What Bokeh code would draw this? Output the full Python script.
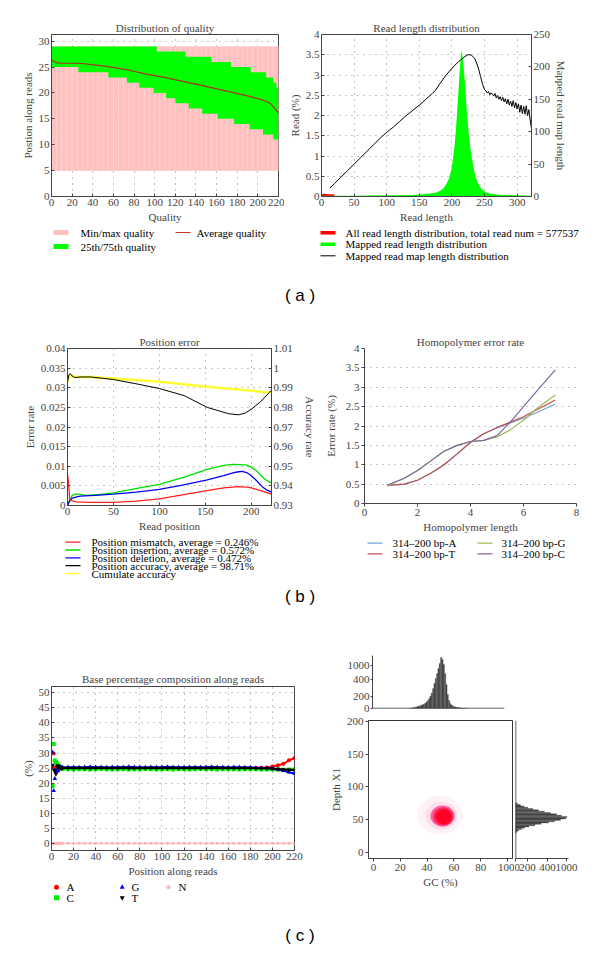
import numpy as np
from bokeh.plotting import figure
from bokeh.models import Range1d, LinearAxis, FixedTicker, PrintfTickFormatter, Div, Span
from bokeh.core.properties import value
from bokeh.layouts import column, row
from bokeh.embed import file_html
from bokeh.resources import INLINE

FONT = "Liberation Serif"
GRID = "#8c8c8c"
FS = "11px"

# ---------------- data: (a) distribution of quality ----------------
q_cols = list(range(0, 220, 5))
q_min = [5] * len(q_cols)
q_max = [29] * len(q_cols)
q_up_edges = [0, 102, 130, 155, 174, 193, 208, 215, 218, 220]
q_up_vals = [29, 28, 27, 26, 25, 24, 23, 22, 21]
q_lo_edges = [0, 26, 55, 73, 85, 99, 111, 120, 133, 146, 161, 177, 192, 205, 215, 220]
q_lo_vals = [25, 24, 23, 22, 21, 20, 19, 18, 17, 16, 15, 14, 13, 12, 11]
avg_x = [0, 3, 6, 10, 20, 30, 45, 60, 75, 91, 108, 124, 140, 156, 172, 189, 200, 205, 210, 213, 216, 220]
avg_y = [26.4, 26.0, 25.8, 25.75, 25.75, 25.7, 25.35, 24.95, 24.4, 23.7, 23.05, 22.4, 21.7, 21.0, 20.25, 19.5, 18.9, 18.6, 18.2, 17.8, 17.1, 16.1]

# ---------------- data: (a) read length distribution ----------------
all_x = [0, 5, 10, 15, 20]
all_y = [0.02, 0.03, 0.02, 0.02, 0.01]
map_x = [0, 50, 100, 140, 160, 175, 183, 188, 192, 196, 199, 202, 204, 206, 208, 210, 212, 213.5, 215,
         216.5, 218, 220, 222, 224, 227, 230, 233, 236, 240, 245, 252, 260, 277, 300, 322]
map_y = [0.02, 0.02, 0.03, 0.04, 0.06, 0.09, 0.15, 0.22, 0.32, 0.47, 0.65, 0.96, 1.25, 1.62, 2.1, 2.6,
         3.1, 3.42, 3.62, 3.45, 3.2, 2.8, 2.3, 1.85, 1.35, 1.0, 0.72, 0.5, 0.32, 0.2, 0.1, 0.07, 0.04, 0.03, 0.02]
len_x = [13, 20, 30, 40, 50, 60, 70, 80, 90, 100, 110, 120, 130, 140, 150, 160, 170, 175, 180, 190, 200,
         210, 220, 225, 230, 235, 240, 244, 247,
         250, 252, 254, 256, 258, 260, 262, 264, 266, 268, 270, 272, 274, 276, 278, 280, 282, 284, 286,
         288, 290, 292, 294, 296, 298, 300, 302, 304, 306, 308, 310, 312, 314, 316, 318, 320, 322]
len_y = [13, 20, 30, 40, 50, 60, 70, 80, 90, 99, 107, 116, 125, 133, 141, 150, 159, 164, 172, 186, 198,
         208, 216, 219, 218, 213, 200, 185, 173,
         165, 163, 160, 162, 157, 160, 158, 155, 159, 152, 156, 150, 154, 148, 153, 146, 151, 143, 150,
         141, 147, 139, 148, 137, 145, 135, 143, 130, 141, 128, 139, 127, 140, 125, 134, 118, 105]

# ---------------- data: (b) position error ----------------
mm_x = [0, 1, 2.5, 6, 10, 25, 50, 75, 100, 125, 150, 170, 186, 195, 200, 210, 222]
mm_y = [0.0081, 0.006, 0.0014, 0.0011, 0.0009, 0.0008, 0.0008, 0.0011, 0.0017, 0.0027, 0.0037, 0.0045,
        0.0048, 0.0047, 0.0045, 0.0038, 0.0029]
ins_x = [0, 2, 5, 8, 12, 20, 35, 50, 77, 100, 127, 152, 170, 180, 188, 195, 200, 206, 211, 216, 222]
ins_y = [0, 0.0012, 0.0025, 0.0029, 0.0029, 0.0026, 0.0028, 0.0032, 0.0044, 0.0054, 0.0072, 0.0092,
         0.0102, 0.0105, 0.0104, 0.0103, 0.0098, 0.0088, 0.0075, 0.0065, 0.0057]
del_x = [0, 2, 5, 10, 14, 30, 50, 75, 100, 125, 152, 170, 180, 186, 190, 195, 200, 205, 212, 217, 222]
del_y = [0, 0.001, 0.0019, 0.0022, 0.0024, 0.0026, 0.0029, 0.0034, 0.0041, 0.0052, 0.0065, 0.0076,
         0.0083, 0.0086, 0.0087, 0.0084, 0.0076, 0.0065, 0.0048, 0.0039, 0.0034]
acc_x = [0, 1.5, 3, 5, 8, 15, 25, 50, 77, 100, 127, 152, 165, 175, 186, 193, 200, 205, 210, 214, 218, 222]
acc_y = [0.993, 0.9965, 0.9972, 0.996, 0.9952, 0.9955, 0.9955, 0.9942, 0.9918, 0.9896, 0.986, 0.980,
         0.9782, 0.9768, 0.9762, 0.977, 0.979, 0.981, 0.9828, 0.9848, 0.9868, 0.9887]
cum_x = [0, 2, 5, 10, 25, 50, 100, 152, 200, 212, 222]
cum_y = [0.993, 0.9958, 0.996, 0.9955, 0.9955, 0.9947, 0.993, 0.9905, 0.9885, 0.9878, 0.9877]

# ---------------- data: (b) homopolymer ----------------
hp_x = [0.85, 1.5, 2, 2.5, 3, 3.5, 4, 4.5, 5, 5.5, 6, 6.5, 7.2]
hp_A = [0.47, 0.5, 0.6, 0.78, 1.0, 1.28, 1.58, 1.8, 1.95, 2.08, 2.2, 2.35, 2.56]
hp_T = [0.47, 0.5, 0.6, 0.78, 1.0, 1.28, 1.58, 1.8, 1.96, 2.1, 2.24, 2.42, 2.67]
hp_G = [0.45, 0.65, 0.85, 1.1, 1.35, 1.5, 1.6, 1.63, 1.72, 1.9, 2.15, 2.45, 2.8]
hp_C = [0.47, 0.65, 0.85, 1.1, 1.35, 1.5, 1.6, 1.63, 1.75, 2.1, 2.5, 2.9, 3.45]

# ---------------- data: (c) base composition ----------------
bp_pos = list(range(1, 11)) + list(range(15, 221, 5))
bp_A = [25.5, 29.8, 25.0, 24.5, 24.0, 24.5, 25.0, 25.1, 25.0, 25.0,
        25.0, 25.1, 25.0, 24.9, 25.0, 25.1, 25.0, 25.0, 24.9, 25.0,
        25.1, 25.0, 25.0, 24.9, 25.0, 25.1, 25.0, 25.0, 24.9, 25.0,
        25.0, 25.1, 25.0, 25.0, 24.9, 25.0, 25.1, 25.0, 25.0, 25.0,
        25.0, 25.0, 25.1, 25.0, 25.0, 25.1,
        25.2, 25.5, 25.9, 26.4, 27.6, 28.3]
bp_C = [19.0, 33.0, 27.5, 27.0, 26.5, 25.8, 25.5, 25.2, 24.9, 24.7,
        24.6, 24.5, 24.6, 24.6, 24.5, 24.6, 24.7, 24.6, 24.5, 24.6,
        24.6, 24.5, 24.6, 24.6, 24.7, 24.6, 24.5, 24.6, 24.6, 24.5,
        24.6, 24.6, 24.5, 24.6, 24.7, 24.6, 24.6, 24.5, 24.6, 24.6,
        24.6, 24.5, 24.6, 24.6, 24.6, 24.5,
        24.5, 24.5, 24.5, 24.4, 24.5, 24.6]
bp_G = [30.2, 17.5, 21.5, 23.5, 24.5, 24.0, 25.5, 25.3, 25.2, 25.2,
        25.3, 25.3, 25.2, 25.3, 25.4, 25.3, 25.3, 25.2, 25.3, 25.3,
        25.3, 25.4, 25.3, 25.3, 25.2, 25.3, 25.3, 25.3, 25.4, 25.3,
        25.3, 25.2, 25.3, 25.3, 25.3, 25.3, 25.4, 25.3, 25.3, 25.2,
        25.3, 25.3, 25.2, 25.2, 25.1, 25.1,
        25.0, 24.8, 24.5, 24.1, 23.6, 23.2]
bp_T = [26.0, 24.5, 24.0, 23.0, 25.5, 25.8, 25.2, 25.0, 25.0, 25.0,
        25.0, 25.0, 25.1, 25.0, 25.0, 25.0, 25.1, 25.0, 25.0, 25.0,
        25.1, 25.0, 25.0, 25.0, 25.0, 25.1, 25.0, 25.0, 25.0, 25.1,
        25.0, 25.0, 25.0, 25.1, 25.0, 25.0, 25.0, 25.1, 25.0, 25.0,
        25.0, 25.0, 25.0, 25.0, 24.9, 24.9,
        24.9, 24.8, 24.7, 24.5, 24.4, 24.3]
bp_N = [0.0] * len(bp_pos)

# ---------------- data: (c) GC vs depth ----------------
gc_bins = list(range(28, 73))
gc_counts = [0, 4, 8, 12, 16, 24, 32, 38, 43, 52, 61, 72, 83, 105, 128, 160, 200, 235, 288, 347, 421,
             636, 850, 1064, 1321, 1236, 1021, 636, 335, 218, 128, 80, 56, 42, 29, 24, 19, 15, 11, 8,
             6, 4, 3, 1, 0]
dp_bins = list(range(30, 78, 2))
dp_counts = [8, 25, 50, 100, 150, 215, 275, 335, 432, 621, 811, 968, 1015, 842, 684, 495, 370, 310,
             255, 205, 142, 83, 33, 8]
blob_gc = [49.5, 50.5, 51.5, 52.0, 52.4]
blob_depth = [57, 56, 55.5, 55, 54.5]
blob_w = [34, 24, 18, 15, 12]
blob_h = [58, 42, 32, 28, 23]
blob_col = ["#fff1f5", "#ffdbe8", "#ff4fa0", "#ff2050", "#ff0022"]
top_anchor_counts = [0, 200, 400, 1000, 2000]
top_anchor_pos = [0, 12.5, 29.5, 43.5, 66.8]
side_anchor_counts = [0, 200, 400, 1000, 2000]
side_anchor_pos = [0, 12, 32, 51, 82.7]


def mk(w, h, xr, yr, bl, br, bt, bb, title=None, standoff=2):
    p = figure(width=w, height=h, x_range=Range1d(*xr), y_range=Range1d(*yr),
               min_border_left=bl, min_border_right=br, min_border_top=bt, min_border_bottom=bb,
               output_backend="svg", toolbar_location=None, title=title)
    p.frame_align = False
    if title:
        p.title.text_font = FONT
        p.title.text_font_size = FS
        p.title.text_font_style = "normal"
        p.title.align = "center"
        p.title.standoff = standoff
    p.outline_line_color = "#444444"
    p.border_fill_color = "white"
    return p


def sax(ax, ticks, label=None, fmt="%g", overrides=None, tin=3, tout=0, lstand=2):
    ax.ticker = FixedTicker(ticks=list(ticks))
    if overrides is not None:
        ax.major_label_overrides = overrides
    else:
        ax.formatter = PrintfTickFormatter(format=fmt)
    if label is not None:
        ax.axis_label = label
    ax.major_label_text_font = FONT
    ax.major_label_text_font_size = FS
    ax.axis_label_text_font = FONT
    ax.axis_label_text_font_size = FS
    ax.axis_label_text_font_style = "normal"
    ax.minor_tick_line_color = None
    ax.major_tick_in = tin
    ax.major_tick_out = tout
    ax.major_label_standoff = 2
    ax.axis_label_standoff = lstand
    ax.axis_line_color = "#444444"
    ax.major_tick_line_color = "#444444"


def sgrid(p, xt=None, yt=None):
    if xt is None:
        p.xgrid.visible = False
    else:
        p.xgrid.ticker = FixedTicker(ticks=list(xt))
        p.xgrid.grid_line_color = GRID
        p.xgrid.grid_line_dash = "1 5"
    if yt is None:
        p.ygrid.visible = False
    else:
        p.ygrid.ticker = FixedTicker(ticks=list(yt))
        p.ygrid.grid_line_color = GRID
        p.ygrid.grid_line_dash = "1 5"


def key_fig(x0, y0, w, h, entries):
    """A key panel; entries use page pixel positions (layout only)."""
    p = figure(width=w, height=h, x_range=Range1d(x0, x0 + w), y_range=Range1d(y0 + h, y0),
               min_border=0, output_backend="svg", toolbar_location=None,
               x_axis_location=None, y_axis_location=None)
    p.frame_align = False
    p.grid.visible = False
    p.outline_line_color = None
    for e in entries:
        kind, color, sx, sy, sw, tx, label = e[:7]
        extra = e[7] if len(e) > 7 else {}
        if kind == "bar":
            bh = extra.get("bh", 5)
            p.quad(left=[sx], right=[sx + sw], top=[sy - bh / 2], bottom=[sy + bh / 2],
                   fill_color=color, line_color=None)
        elif kind == "line":
            p.line([sx, sx + sw], [sy, sy], line_color=color, line_width=extra.get("lw", 1.2))
        else:
            p.scatter([sx], [sy], marker=kind, size=extra.get("size", 5), fill_color=color,
                      line_color=None)
        p.text([tx], [sy], text=[label], text_baseline="middle", text_align="left",
               text_font=value(FONT), text_font_size=value(FS), text_color="black")
    return p


# ================= (a) left =================
a1 = mk(276, 217, (0, 220), (0, 31.3), 43, 6, 26, 29, "Distribution of quality", standoff=1)
xt = list(range(0, 221, 20))
yt = list(range(0, 31, 5))
sax(a1.xaxis[0], xt, "Quality")
sax(a1.yaxis[0], yt, "Postion along reads")
sgrid(a1, xt, yt)
a1.vbar(x=[c + 2.5 for c in q_cols], width=5, bottom=q_min, top=q_max,
        fill_color="#ffc0c0", line_color="#ffd2d2", line_width=0.7)
gx, gy = [], []
for i, v in enumerate(q_up_vals):
    gx += [q_up_edges[i], q_up_edges[i + 1]]
    gy += [v, v]
for i in range(len(q_lo_vals) - 1, -1, -1):
    gx += [q_lo_edges[i + 1], q_lo_edges[i]]
    gy += [q_lo_vals[i], q_lo_vals[i]]
a1.patch(gx, gy, fill_color="#00ff00", line_color=None)
a1.line(avg_x, avg_y, line_color="#a8321e", line_width=1.2)
a1_key = key_fig(8, 225, 276, 55, [
    ("bar", "#ffc0c0", 53, 232, 15, 80, "Min/max quality", {"bh": 5}),
    ("bar", "#00ff00", 53, 246, 15, 80, "25th/75th quality", {"bh": 5}),
    ("line", "#c0392b", 175, 232, 15, 196, "Average quality", {"lw": 1.2}),
])

# ================= (a) right =================
a2 = mk(308, 217, (0, 322), (0, 4), 37, 61, 26, 29, "Read length distribution", standoff=1)
a2.extra_y_ranges = {"map": Range1d(0, 250)}
sax(a2.xaxis[0], range(0, 301, 50), "Read length")
sax(a2.yaxis[0], [0, 0.5, 1, 1.5, 2, 2.5, 3, 3.5, 4], "Read (%)")
ax_r = LinearAxis(y_range_name="map")
sax(ax_r, range(0, 251, 50), "Mapped read map length")
a2.add_layout(ax_r, "right")
sgrid(a2, range(0, 301, 50), [0.5, 1, 1.5, 2, 2.5, 3, 3.5])
a2.line(all_x, all_y, line_color="#ff0000", line_width=3)
a2.varea(x=map_x, y1=[0] * len(map_x), y2=map_y, fill_color="#00ff00")
a2.line(len_x, len_y, y_range_name="map", line_color="black", line_width=1)
a2_key = key_fig(284, 225, 308, 55, [
    ("bar", "#ff0000", 320, 232.3, 15, 345, "All read length distribution, total read num = 577537",
     {"bh": 3.5}),
    ("bar", "#00ff00", 320, 243.7, 15, 345, "Mapped read length distribution", {"bh": 3.5}),
    ("line", "black", 320, 255.3, 15, 345, "Mapped read map length distribution", {"lw": 1}),
])

# ================= (b) left =================
b1 = mk(310, 223, (0, 222), (0, 0.04), 59, 44, 36, 30, "Position error", standoff=1)
b1.extra_y_ranges = {"acc": Range1d(0.93, 1.01)}
sax(b1.xaxis[0], [0, 50, 100, 150, 200], "Read position")
sax(b1.yaxis[0], [0, 0.005, 0.01, 0.015, 0.02, 0.025, 0.03, 0.035, 0.04], "Error rate")
ax_b = LinearAxis(y_range_name="acc")
sax(ax_b, [0.93, 0.94, 0.95, 0.96, 0.97, 0.98, 0.99, 1.0, 1.01], "Accuracy rate", lstand=8)
b1.add_layout(ax_b, "right")
sgrid(b1, [50, 100, 150, 200], [0.005, 0.01, 0.015, 0.02, 0.025, 0.03, 0.035])
b1.line(cum_x, cum_y, y_range_name="acc", line_color="#ffff33", line_width=2.5)
b1.line(acc_x, acc_y, y_range_name="acc", line_color="black", line_width=1)
b1.line(ins_x, ins_y, line_color="#00dd00", line_width=1.3)
b1.line(del_x, del_y, line_color="#0000ff", line_width=1.3)
b1.line(mm_x, mm_y, line_color="#ff2020", line_width=1.3)
b1_key = key_fig(8, 535, 310, 47, [
    ("line", "#ff2020", 65, 541.7, 15, 91, "Position mismatch, average = 0.246%", {"lw": 1.3}),
    ("line", "#00dd00", 65, 549.5, 15, 91, "Position insertion, average = 0.572%", {"lw": 1.3}),
    ("line", "#0000ff", 65, 557.3, 15, 91, "Position deletion, average = 0.472%", {"lw": 1.3}),
    ("line", "black", 65, 565.1, 15, 91, "Position accuracy, average = 98.71%", {"lw": 1.3}),
    ("line", "#ffff33", 65, 573.0, 15, 91, "Cumulate accuracy", {"lw": 1.5}),
])

# ================= (b) right =================
b2 = mk(274, 223, (0, 8), (0, 4), 46, 16, 36, 31, "Homopolymer error rate", standoff=1)
b2.outline_line_color = None
sax(b2.xaxis[0], [0, 2, 4, 6, 8], "Homopolymer length", tin=0, tout=3)
sax(b2.yaxis[0], [0, 0.5, 1, 1.5, 2, 2.5, 3, 3.5, 4], "Error rate (%)", tin=0, tout=3, lstand=6)
sgrid(b2, None, [0.5, 1, 1.5, 2, 2.5, 3, 3.5, 4])
b2.line(hp_x, hp_A, line_color="#6fa3d8", line_width=1.2)
b2.line(hp_x, hp_T, line_color="#c0504d", line_width=1.2)
b2.line(hp_x, hp_G, line_color="#9bbb59", line_width=1.2)
b2.line(hp_x, hp_C, line_color="#8064a2", line_width=1.2)
b2_key = key_fig(318, 535, 274, 47, [
    ("line", "#6fa3d8", 367, 542.7, 15, 392, "314\u2013200 bp-A", {"lw": 1.2}),
    ("line", "#c0504d", 367, 553.3, 15, 392, "314\u2013200 bp-T", {"lw": 1.2}),
    ("line", "#9bbb59", 477, 542.7, 15, 501, "314\u2013200 bp-G", {"lw": 1.2}),
    ("line", "#8064a2", 477, 553.3, 15, 501, "314\u2013200 bp-C", {"lw": 1.2}),
])

# ================= (c) left =================
c1 = mk(300, 267, (0, 220), (-2.4, 52.1), 43, 14, 74, 29, "Base percentage composition along reads",
        standoff=3)
sax(c1.xaxis[0], range(0, 221, 20), "Position along reads")
sax(c1.yaxis[0], range(0, 51, 5), "(%)")
sgrid(c1, range(0, 221, 20), range(0, 51, 5))
c1.line(bp_pos, bp_N, line_color="#ffb0b0", line_width=1)
c1.scatter(bp_pos, bp_N, marker="circle", size=3, fill_color="#ffb0b0", line_color=None)
c1.line(bp_pos[7:], bp_A[7:], line_color="#ff0000", line_width=2)
c1.scatter(bp_pos, bp_A, marker="circle", size=4, fill_color="#ff0000", line_color=None)
c1.line(bp_pos[7:], bp_C[7:], line_color="#00ee00", line_width=2)
c1.scatter(bp_pos, bp_C, marker="square", size=4, fill_color="#00ee00", line_color=None)
c1.line(bp_pos[7:], bp_G[7:], line_color="#0000ee", line_width=2)
c1.scatter(bp_pos, bp_G, marker="triangle", size=4.5, fill_color="#0000ee", line_color=None)
c1.line(bp_pos[7:], bp_T[7:], line_color="black", line_width=2)
c1.scatter(bp_pos, bp_T, marker="inverted_triangle", size=4.5, fill_color="black", line_color=None)
c1_key = key_fig(8, 879, 300, 27, [
    ("circle", "#ff0000", 56, 886.7, 0, 66, "A", {"size": 5}),
    ("square", "#00ee00", 56, 897.3, 0, 66, "C", {"size": 5}),
    ("triangle", "#0000ee", 121.7, 886.7, 0, 131, "G", {"size": 5}),
    ("inverted_triangle", "black", 121.7, 897.3, 0, 131, "T", {"size": 5}),
    ("circle", "#ffb0b0", 168, 886.7, 0, 178, "N", {"size": 4}),
])

# ================= (c) right: top histogram =================
top_h = list(np.interp(gc_counts, top_anchor_counts, top_anchor_pos))
ch = mk(284, 102, (0, 100), (0, 53), 64, 88, 43, 6)
ch.outline_line_color = None
ch.xaxis.visible = False
sax(ch.yaxis[0], [0, 12.5, 29.5, 43.5], overrides={0: "0", 12.5: "200", 29.5: "400", 43.5: "1000"},
    tin=0, tout=2)
ch.yaxis[0].major_label_standoff = 1
sgrid(ch, None, None)
ch.vbar(x=gc_bins, width=1, top=top_h, bottom=0, fill_color="#2a2a2a", line_color="#777777",
        line_width=0.4)
ch.add_layout(Span(location=0, dimension="width", line_color="#333333", line_width=1.5))

# ================= (c) right: scatter =================
cs = mk(206, 192, (-3.7, 103.7), (-9, 201), 60, 2, 6, 48)
sax(cs.xaxis[0], range(0, 101, 20), "GC (%)", tin=0, tout=3)
sax(cs.yaxis[0], range(0, 201, 50), "Depth X1", tin=0, tout=3)
sgrid(cs, None, None)
cs.outline_line_color = "#333333"
for i in range(len(blob_gc)):
    cs.ellipse(x=[blob_gc[i]], y=[blob_depth[i]], width=[blob_w[i]], height=[blob_h[i]],
               fill_color=blob_col[i], line_color=None, fill_alpha=0.9)

# ================= (c) right: side histogram =================
side_w = list(np.interp(dp_counts, side_anchor_counts, side_anchor_pos))
cr = mk(78, 192, (0, 53), (-9, 201), 1, 24, 6, 48)
cr.outline_line_color = None
cr.yaxis.visible = False
sax(cr.xaxis[0], [0, 12, 32, 51], overrides={0: "0", 12: "200", 32: "400", 51: "1000"}, tin=0, tout=3)
sgrid(cr, None, None)
cr.hbar(y=dp_bins, height=2, left=0, right=side_w, fill_color="#2a2a2a", line_color="#777777",
        line_width=0.4)
cr.add_layout(Span(location=0, dimension="height", line_color="#333333", line_width=1.5))


def lab(txt, h, pad, lhpx):
    return Div(text='<div style="text-align:center;font-family:\'Liberation Sans\',Arial,sans-serif;'
                    'font-size:17px;padding-top:%dpx;line-height:%dpx;width:584px">%s</div>' % (pad, lhpx, txt),
               width=584, height=h, margin=0)


layout = column(
    row(column(a1, a1_key), column(a2, a2_key)),
    lab("( a )", 32, 6, 20),
    row(column(b1, b1_key), column(b2, b2_key)),
    lab("( b )", 30, 5, 20),
    row(column(c1, c1_key), column(ch, row(cs, cr))),
    lab("( c )", 40, 21, 18),
    margin=(8, 0, 0, 8),
)

open("out.html", "w").write(file_html(layout, INLINE))
